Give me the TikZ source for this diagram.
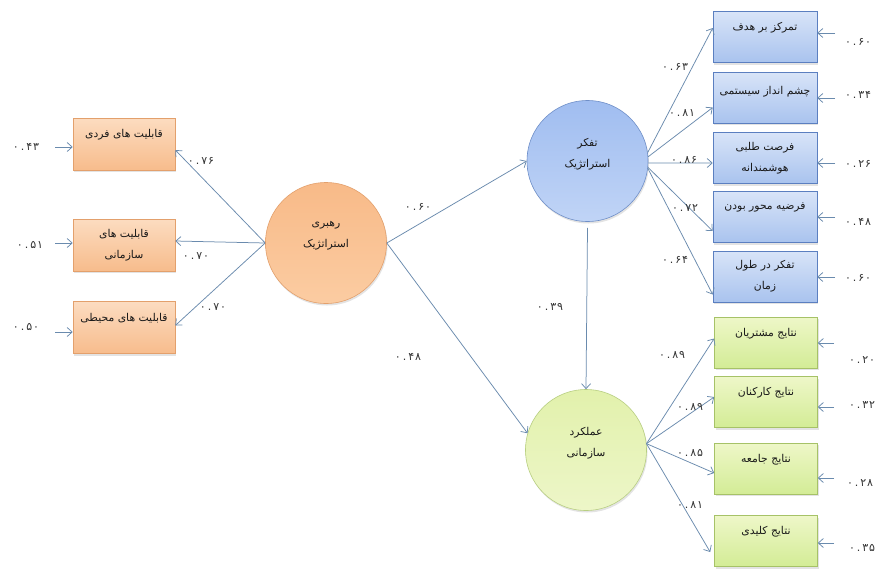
\documentclass[tikz,border=0pt]{standalone}
\usepackage{fontspec}
\newfontfamily\arabicfont[Script=Arabic]{DejaVu Sans}
\newfontfamily\numfont{DejaVu Sans}
\TeXXeTstate=1
\usetikzlibrary{arrows.meta,shadows,calc}
\newcommand{\fa}[1]{\beginR #1\endR}
\newcommand{\nm}[2]{۰\kern2pt.\kern2pt#1\kern0.8pt#2}
\definecolor{oA}{HTML}{FCDCC0}
\definecolor{oB}{HTML}{F7BC8C}
\definecolor{oD}{HTML}{E3A06C}
\definecolor{ocA}{HTML}{F8BA88}
\definecolor{ocB}{HTML}{FBCCA2}
\definecolor{bA}{HTML}{D8E4F8}
\definecolor{bB}{HTML}{A9C3EE}
\definecolor{bD}{HTML}{5B7FC0}
\definecolor{bcA}{HTML}{A0BDF0}
\definecolor{bcB}{HTML}{C0D4F6}
\definecolor{bcD}{HTML}{6F8FC8}
\definecolor{gA}{HTML}{EEF7C8}
\definecolor{gB}{HTML}{D3EC96}
\definecolor{gD}{HTML}{A6C267}
\definecolor{gcA}{HTML}{E2F1AC}
\definecolor{gcB}{HTML}{EDF6C8}
\definecolor{gcD}{HTML}{B8CF82}
\definecolor{lc}{HTML}{6A8BAE}
\begin{document}
\begin{tikzpicture}[x=1pt,y=-1pt,
  every node/.style={inner sep=0pt},
  txt/.style={font=\arabicfont\fontsize{10.8pt}{21pt}\selectfont, align=center, text=black!90},
  base/.style={line width=0.6pt, txt, drop shadow={opacity=0.22,shadow xshift=1pt,shadow yshift=-2pt}},
  obox/.style={base, rectangle, draw=oD, top color=oA, bottom color=oB, minimum width=102pt, minimum height=52pt},
  bbox/.style={base, rectangle, draw=bD, top color=bA, bottom color=bB, minimum width=104pt, minimum height=51pt},
  gbox/.style={base, rectangle, draw=gD, top color=gA, bottom color=gB, minimum width=103pt, minimum height=51pt},
  lat/.style={base, circle, minimum size=121pt},
  ocirc/.style={lat, draw=oD, top color=ocA, bottom color=ocB},
  bcirc/.style={lat, draw=bcD, top color=bcA, bottom color=bcB},
  gcirc/.style={lat, draw=gcD, top color=gcA, bottom color=gcB},
  num/.style={font=\numfont\fontsize{11pt}{13pt}\selectfont, text=black!80},
  arr/.style={draw=lc, line width=0.75pt, -{Straight Barb[length=5pt,width=9pt]}}
]
\useasboundingbox (0,0) rectangle (882,568);
\fill[white] (0,0) rectangle (882,568);

% left indicator boxes
\node[obox] (L1) at (124,144) {\fa{قابلیت های فردی}\\\mbox{}};
\node[obox] (L2) at (124,245) {\fa{قابلیت های}\\\fa{سازمانی}};
\node[obox] (L3) at (124,327.5) {\fa{قابلیت های محیطی}\\\mbox{}};

% latent variables
\node[ocirc] (LD) at (326,243) {\fa{رهبری}\\\fa{استراتژیک}\\[-4pt]\mbox{}};
\node[bcirc] (TH) at (587.5,161) {\fa{تفکر}\\\fa{استراتژیک}\\[-4pt]\mbox{}};
\node[gcirc] (PF) at (586,450) {\fa{عملکرد}\\\fa{سازمانی}\\[-4pt]\mbox{}};

% blue indicator boxes
\node[bbox] (B1) at (765,37) {\fa{تمرکز بر هدف}\\\mbox{}};
\node[bbox] (B2) at (765,97.5) {\fa{چشم انداز سیستمی}\\[-6pt]\mbox{}};
\node[bbox] (B3) at (765,158) {\fa{فرصت طلبی}\\\fa{هوشمندانه}};
\node[bbox] (B4) at (765,217) {\fa{فرضیه محور بودن}\\\mbox{}};
\node[bbox] (B5) at (765,276.5) {\fa{تفکر در طول}\\\fa{زمان}};

% green indicator boxes
\node[gbox] (G1) at (766,342.5) {\fa{نتایج مشتریان}\\\mbox{}};
\node[gbox] (G2) at (766,402) {\fa{نتایج کارکنان}\\\mbox{}};
\node[gbox] (G3) at (766,468.5) {\fa{نتایج جامعه}\\\mbox{}};
\node[gbox] (G4) at (766,541) {\fa{نتایج کلیدی}\\\mbox{}};

% structural paths
\draw[arr] (LD.west) -- ([yshift=-6pt]L1.east);
\draw[arr] (LD.west) -- ([yshift=4pt]L2.east);
\draw[arr] (LD.west) -- ([yshift=2pt]L3.east);
\draw[arr] (LD.east) -- (TH.west);
\draw[arr] (LD.east) -- (PF.164);
\draw[arr] ([yshift=-6pt]TH.south) -- (PF.north);

\draw[arr] (TH.8) -- ([yshift=9pt]B1.west);
\draw[arr] (TH.4) -- ([yshift=-10pt]B2.west);
\draw[arr] (TH.-2) -- ([yshift=-5pt]B3.west);
\draw[arr] (TH.-6) -- ([yshift=-14pt]B4.west);
\draw[arr] (TH.-7) -- ([yshift=-18pt]B5.west);

\draw[arr] (PF.6) -- ([yshift=4pt]G1.west);
\draw[arr] (PF.6) -- ([yshift=5pt]G2.west);
\draw[arr] (PF.6) -- ([yshift=-4.5pt]G3.west);
\draw[arr] (PF.6) -- ([xshift=-4pt,yshift=-11pt]G4.west);

% path coefficients
\node[num] (p1) at (201,161) {\nm۷۶};
\node[num] (p2) at (196,256) {\nm۷۰};
\node[num] (p3) at (213,307) {\nm۷۰};
\node[num] (p4) at (418,207) {\nm۶۰};
\node[num] (p5) at (550,307) {\nm۳۹};
\node[num] (p6) at (408,357) {\nm۴۸};
\node[num] (p7) at (675,67) {\nm۶۳};
\node[num] (p8) at (682,113) {\nm۸۱};
\node[num] (p9) at (684,160) {\nm۸۶};
\node[num] (p10) at (685,208) {\nm۷۲};
\node[num] (p11) at (675,260) {\nm۶۴};
\node[num] (p12) at (672,355) {\nm۸۹};
\node[num] (p13) at (690,407) {\nm۸۹};
\node[num] (p14) at (690,453) {\nm۸۵};
\node[num] (p15) at (690,505) {\nm۸۱};

% error terms, left
\node[num] (eL1) at (26,147) {\nm۴۳};
\node[num] (eL2) at (30,245) {\nm۵۱};
\node[num] (eL3) at (26,327) {\nm۵۰};
\coordinate (aL1) at (55,147);
\coordinate (aL2) at (55,243);
\coordinate (aL3) at (55,332);
\draw[arr] (aL1) -- (aL1 -| L1.west);
\draw[arr] (aL2) -- (aL2 -| L2.west);
\draw[arr] (aL3) -- (aL3 -| L3.west);

% error terms, blue
\node[num] (eB1) at (858,42) {\nm۶۰};
\node[num] (eB2) at (858,95) {\nm۳۴};
\node[num] (eB3) at (858,164) {\nm۲۶};
\node[num] (eB4) at (858,222) {\nm۴۸};
\node[num] (eB5) at (858,278) {\nm۶۰};
\coordinate (aB1) at (835,33);
\coordinate (aB2) at (835,98);
\coordinate (aB3) at (835,163);
\coordinate (aB4) at (835,217);
\coordinate (aB5) at (835,277);
\draw[arr] (aB1) -- (aB1 -| B1.east);
\draw[arr] (aB2) -- (aB2 -| B2.east);
\draw[arr] (aB3) -- (aB3 -| B3.east);
\draw[arr] (aB4) -- (aB4 -| B4.east);
\draw[arr] (aB5) -- (aB5 -| B5.east);

% error terms, green
\node[num] (eG1) at (862,360) {\nm۲۰};
\node[num] (eG2) at (862,405) {\nm۳۲};
\node[num] (eG3) at (860,483) {\nm۲۸};
\node[num] (eG4) at (862,548) {\nm۳۵};
\coordinate (aG1) at (834,343);
\coordinate (aG2) at (834,407);
\coordinate (aG3) at (834,478);
\coordinate (aG4) at (834,543);
\draw[arr] (aG1) -- (aG1 -| G1.east);
\draw[arr] (aG2) -- (aG2 -| G2.east);
\draw[arr] (aG3) -- (aG3 -| G3.east);
\draw[arr] (aG4) -- (aG4 -| G4.east);
\end{tikzpicture}
\end{document}
